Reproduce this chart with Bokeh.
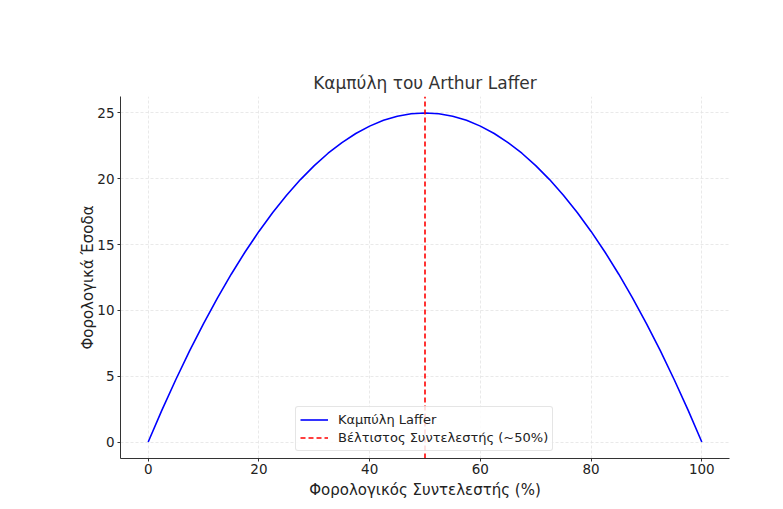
from bokeh.plotting import figure
from bokeh.models import Range1d, Legend, LegendItem, FixedTicker
from bokeh.embed import file_html
from bokeh.resources import INLINE

# Data
tax_rate = [0, 2.5, 5, 7.5, 10, 12.5, 15, 17.5, 20, 22.5, 25, 27.5, 30, 32.5, 35, 37.5,
            40, 42.5, 45, 47.5, 50, 52.5, 55, 57.5, 60, 62.5, 65, 67.5, 70, 72.5, 75,
            77.5, 80, 82.5, 85, 87.5, 90, 92.5, 95, 97.5, 100]
revenue = [0, 2.44, 4.75, 6.94, 9.0, 10.94, 12.75, 14.44, 16.0, 17.44, 18.75, 19.94,
           21.0, 21.94, 22.75, 23.44, 24.0, 24.44, 24.75, 24.94, 25.0, 24.94, 24.75,
           24.44, 24.0, 23.44, 22.75, 21.94, 21.0, 19.94, 18.75, 17.44, 16.0, 14.44,
           12.75, 10.94, 9.0, 6.94, 4.75, 2.44, 0]
optimal_rate = 50
x_ticks = [0, 20, 40, 60, 80, 100]
y_ticks = [0, 5, 10, 15, 20, 25]

title_text = "Καμπύλη του Arthur Laffer"
x_label = "Φορολογικός Συντελεστής (%)"
y_label = "Φορολογικά Έσοδα"
curve_label = "Καμπύλη Laffer"
opt_label = "Βέλτιστος Συντελεστής (~50%)"

FONT = "DejaVu Sans"

p = figure(width=783, height=509, output_backend="svg", toolbar_location=None,
           x_range=Range1d(-5, 105), y_range=Range1d(-1.25, 26.25),
           min_border_left=120, min_border_right=54, min_border_top=96,
           min_border_bottom=51)
p.outline_line_color = None
p.background_fill_color = "white"
p.border_fill_color = "white"

p.title.text = title_text
p.title.text_font = FONT
p.title.text_font_size = "17px"
p.title.text_font_style = "normal"
p.title.text_color = "#333333"
p.title.align = "center"
p.title.standoff = 7

for ax in (p.xaxis[0], p.yaxis[0]):
    ax.axis_line_color = "#333333"
    ax.axis_line_width = 1
    ax.major_tick_line_color = "#333333"
    ax.major_tick_out = 3
    ax.major_tick_in = 0
    ax.minor_tick_line_color = None
    ax.major_label_text_font = FONT
    ax.major_label_text_font_size = "13.5px"
    ax.major_label_text_color = "#222222"
    ax.axis_label_text_font = FONT
    ax.axis_label_text_font_size = "15px"
    ax.axis_label_text_font_style = "normal"
    ax.axis_label_text_color = "#222222"

p.xaxis.ticker = FixedTicker(ticks=x_ticks)
p.yaxis.ticker = FixedTicker(ticks=y_ticks)
p.xaxis.axis_label = x_label
p.yaxis.axis_label = y_label
p.xaxis.major_label_standoff = 2
p.yaxis.major_label_standoff = 3
p.xaxis.axis_label_standoff = 4
p.yaxis.axis_label_standoff = -3

p.xgrid.grid_line_color = "#e3e3e3"
p.ygrid.grid_line_color = "#e3e3e3"
p.xgrid.grid_line_dash = "3 2"
p.ygrid.grid_line_dash = "3 2"
p.xgrid.grid_line_width = 0.8
p.ygrid.grid_line_width = 0.8

curve = p.line(tax_rate, revenue, line_color="#0000ff", line_width=1.6)
vline = p.line([optimal_rate, optimal_rate], [-1.25, 26.25], line_color="#ff0000",
               line_width=1.6, line_dash="5 3")

legend = Legend(items=[LegendItem(label=curve_label, renderers=[curve]),
                       LegendItem(label=opt_label, renderers=[vline])],
                location=(175, 7))
legend.label_text_font = FONT
legend.label_text_font_size = "13px"
legend.label_text_color = "#222222"
legend.border_line_color = "#cccccc"
legend.border_line_width = 1
legend.border_radius = 3
legend.background_fill_alpha = 0.85
legend.glyph_width = 28
legend.glyph_height = 17
legend.label_height = 17
legend.label_standoff = 10
legend.spacing = 1
legend.padding = 4
legend.margin = 0
p.add_layout(legend, "center")

open("out.html", "w").write(file_html(p, INLINE))
